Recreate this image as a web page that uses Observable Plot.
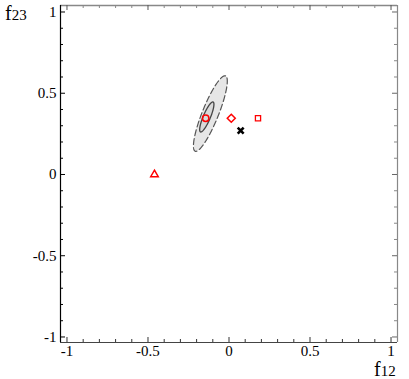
<!DOCTYPE html>
<html><head><meta charset="utf-8">
<script src="https://cdn.jsdelivr.net/npm/d3@7"></script>
<script src="https://cdn.jsdelivr.net/npm/@observablehq/plot@0.6"></script>
<style>body{margin:0;background:#fff}</style>
</head><body><div id="chart"></div>
<script>
// ---- data ----
const xDomain = [-1.04, 1.04];
const yDomain = [-1.034, 1.04];
const majorTicks = [-1, -0.5, 0, 0.5, 1];
const minorTicks = [-0.9, -0.8, -0.7, -0.6, -0.4, -0.3, -0.2, -0.1, 0.1, 0.2, 0.3, 0.4, 0.6, 0.7, 0.8, 0.9];
const xTitle = ["f", "12"];
const yTitle = ["f", "23"];

const pointName = ["circle", "diamond", "square", "triangle", "cross"];
const pointX = [-0.144, 0.014, 0.179, -0.46, 0.072];
const pointY = [0.346, 0.346, 0.346, 0.0, 0.27];

const ellipseName = ["outer", "inner"];
const ellipseCx = [-0.115, -0.137];
const ellipseCy = [0.375, 0.354];
const ellipseA = [0.25, 0.10];
const ellipseB = [0.05, 0.022];
const ellipseAngle = [68, 67];

// ---- styles ----
const serif = "Liberation Serif, DejaVu Serif, serif";
const symbolOf = {circle: "circle", diamond: "diamond2", square: "square2", triangle: "triangle2", cross: "times"};
const colorOf = {circle: "#ff0000", diamond: "#ff0000", square: "#ff0000", triangle: "#ff0000", cross: "#000000"};
const rOf = {circle: 3.2, diamond: 3.6, square: 3.3, triangle: 3.6, cross: 2.8};
const swOf = {circle: 1.5, diamond: 1.5, square: 1.3, triangle: 1.5, cross: 2.6};

const W = 409, H = 379, mL = 60, mR = 12, mT = 5, mB = 37;
const innerW = W - mL - mR, innerH = H - mT - mB;

const points = pointName.map((n, i) => ({name: n, x: pointX[i], y: pointY[i]}));

function ellipsePts(i) {
  const pts = [];
  const t = ellipseAngle[i] * Math.PI / 180;
  for (let k = 0; k < 180; k++) {
    const u = 2 * Math.PI * k / 180;
    const ex = ellipseA[i] * Math.cos(u), ey = ellipseB[i] * Math.sin(u);
    pts.push({x: ellipseCx[i] + ex * Math.cos(t) - ey * Math.sin(t),
              y: ellipseCy[i] + ex * Math.sin(t) + ey * Math.cos(t)});
  }
  return pts;
}

const marks = [
  Plot.line(ellipsePts(0), {x: "x", y: "y", curve: "linear-closed", fill: "#e6e6e6", stroke: "#555", strokeWidth: 1.2, strokeDasharray: "6,3"}),
  Plot.line(ellipsePts(1), {x: "x", y: "y", curve: "linear-closed", fill: "#d9d9d9", stroke: "#444", strokeWidth: 1.3}),
  Plot.ruleY([yDomain[1]], {stroke: "#888", strokeWidth: 1.6}),
  Plot.ruleX([xDomain[1]], {stroke: "#888", strokeWidth: 1.2}),
  Plot.ruleY([yDomain[0]], {stroke: "#444", strokeWidth: 1.2}),
  Plot.ruleX([xDomain[0]], {stroke: "#000", strokeWidth: 1.2}),
  Plot.tickX(majorTicks, {x: d => d, insetTop: innerH - 5, stroke: "#333"}),
  Plot.tickX(minorTicks, {x: d => d, insetTop: innerH - 3, stroke: "#333"}),
  Plot.tickX(majorTicks, {x: d => d, insetBottom: innerH - 5, stroke: "#555"}),
  Plot.tickX(minorTicks, {x: d => d, insetBottom: innerH - 3, stroke: "#888"}),
  Plot.tickY(majorTicks, {y: d => d, insetRight: innerW - 5, stroke: "#000"}),
  Plot.tickY(minorTicks, {y: d => d, insetRight: innerW - 3, stroke: "#000"}),
  Plot.tickY(majorTicks, {y: d => d, insetLeft: innerW - 5, stroke: "#666"}),
  Plot.tickY(minorTicks, {y: d => d, insetLeft: innerW - 3, stroke: "#888"}),
  Plot.axisX(majorTicks, {anchor: "bottom", tickSize: 0, tickPadding: 3, tickFormat: d => String(d), label: null, fontSize: 15, fontFamily: serif}),
  Plot.axisY(majorTicks, {anchor: "left", tickSize: 0, tickPadding: 4, tickFormat: d => String(d), label: null, fontSize: 15, fontFamily: serif}),
  ...points.map(p => Plot.dot([p], {x: "x", y: "y", symbol: symbolOf[p.name], r: rOf[p.name], stroke: colorOf[p.name], fill: "none", strokeWidth: swOf[p.name]}))
];

const chart = Plot.plot({
  width: W, height: H,
  marginLeft: mL, marginRight: mR, marginTop: mT, marginBottom: mB,
  x: {domain: xDomain, axis: null},
  y: {domain: yDomain, axis: null},
  style: {background: "#fff", color: "#000"},
  marks
});

const svg = d3.select(chart).attr("font-family", serif);
svg.selectAll("text").style("font-family", serif).attr("font-variant", null).style("font-variant", "normal");
svg.selectAll("g").attr("font-variant", null);
function title(x, y, parts) {
  const t = svg.append("text").attr("x", x).attr("y", y)
    .attr("text-anchor", "start")
    .style("font-family", serif).attr("fill", "#000");
  t.append("tspan").attr("font-size", 20).text(parts[0]);
  t.append("tspan").attr("font-size", 15).text(parts[1]);
}
title(374, 376, xTitle);
title(5, 20, yTitle);

document.getElementById("chart").appendChild(chart);
</script>
</body></html>
